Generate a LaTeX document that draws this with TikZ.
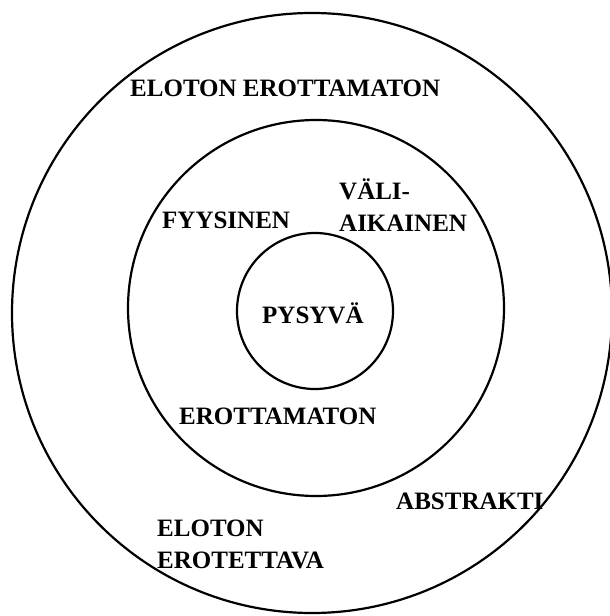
\documentclass[tikz,border=0pt]{standalone}
\usepackage{fontspec}
\setmainfont{Liberation Serif}
\usetikzlibrary{positioning}

\tikzset{
    ring/.style={line width=2.2pt, black},
    lbl/.style={font=\bfseries\fontsize{25}{31.5}\selectfont, inner sep=0pt,
        anchor=base west, align=left}
}

\begin{document}
\begin{tikzpicture}[x=1pt, y=-1pt]
    % --- Page frame (610 x 616) ---
    \useasboundingbox (0, 0) rectangle (610, 616);
    \clip (0, 0) rectangle (610, 616);

    % --- Key Coordinates ---
    \coordinate (OuterC) at (312, 313);
    \coordinate (MidC) at (316, 308);
    \coordinate (InnerC) at (315, 311);

    % --- 1. Rings ---
    \draw[ring] (OuterC) circle (300);
    \draw[ring] (MidC) circle (188);
    \draw[ring] (InnerC) circle (78);

    % --- 2. Outer ring labels (base = last line) ---
    \node[lbl] (elotonErott) at (130, 96) {ELOTON EROTTAMATON};
    \node[lbl] (abstrakti) at (396, 509) {ABSTRAKTI};
    \node[lbl] (elotonErot) at (157, 568) {ELOTON\\EROTETTAVA};

    % --- 3. Middle ring labels ---
    \node[lbl] (fyysinen) at (162, 228) {FYYSINEN};
    \node[lbl] (valiaik) at (339, 231) {VÄLI-\\AIKAINEN};
    \node[lbl] (erottamaton) at (179, 424) {EROTTAMATON};

    % --- 4. Core ---
    \node[lbl] (pysyva) at (262, 323) {PYSYVÄ};
\end{tikzpicture}
\end{document}
